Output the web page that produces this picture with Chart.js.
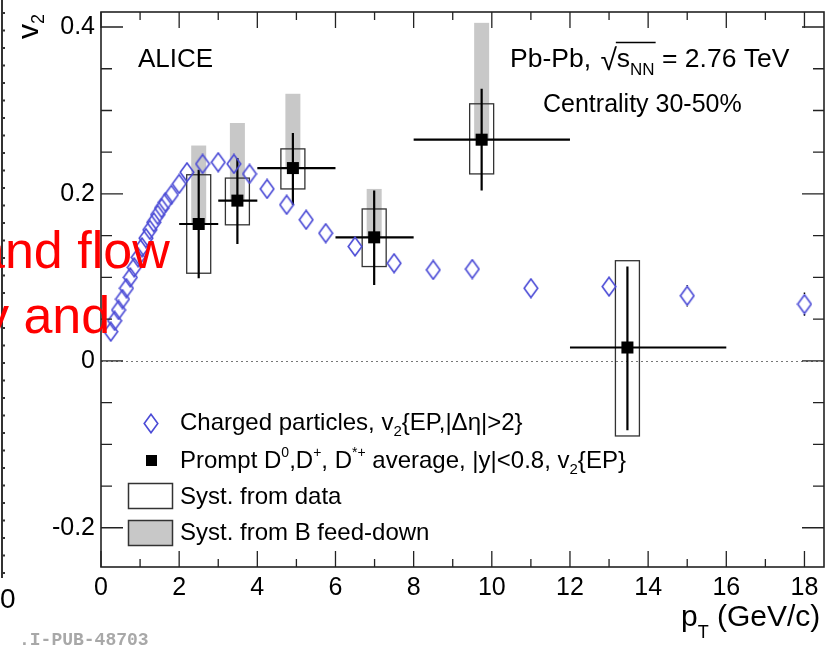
<!DOCTYPE html>
<html>
<head>
<meta charset="utf-8">
<script src="https://cdn.jsdelivr.net/npm/chart.js@4.4.0/dist/chart.umd.min.js"></script>
<style>
  html, body { margin: 0; padding: 0; background: #fff; }
  canvas { display: block; }
</style>
</head>
<body>
<canvas id="chart" width="833" height="652"></canvas>
<script>
// charged particles, v2{EP,|deta|>2}
const chPt = [0.25, 0.35, 0.45, 0.55, 0.65, 0.75, 0.85, 0.95, 1.05, 1.15, 1.25, 1.35, 1.45, 1.55, 1.65, 1.8, 2.0, 2.2,
              2.6, 3.0, 3.4, 3.8, 4.25, 4.75, 5.25, 5.75, 6.5, 7.5, 8.5, 9.5, 11, 13, 15, 18];
const chV2 = [0.035, 0.048, 0.061, 0.074, 0.087, 0.100, 0.112, 0.124, 0.136, 0.147, 0.157, 0.166, 0.175, 0.183, 0.190, 0.199, 0.212, 0.226,
              0.236, 0.238, 0.236, 0.224, 0.206, 0.187, 0.169, 0.153, 0.137, 0.117, 0.109, 0.110, 0.087, 0.089, 0.078, 0.068];
const chErr = [0, 0, 0, 0, 0, 0, 0, 0, 0, 0, 0, 0, 0, 0, 0, 0, 0, 0,
               0, 0, 0, 0, 0, 0, 0, 0, 0, 0, 0, 0, 0, 0, 0.013, 0.014];

// prompt D0, D+, D*+ average
const dPt = [2.5, 3.49, 4.91, 6.99, 9.74, 13.47];
const dV2 = [0.164, 0.192, 0.231, 0.148, 0.265, 0.016];
const dPtLo = [2, 3, 4, 6, 8, 12];
const dPtHi = [3, 4, 6, 8, 12, 16];
const dStatLo = [0.099, 0.140, 0.187, 0.091, 0.204, -0.083];
const dStatHi = [0.229, 0.243, 0.273, 0.204, 0.326, 0.113];
const dSystLo = [0.105, 0.163, 0.206, 0.113, 0.224, -0.090];
const dSystHi = [0.223, 0.219, 0.254, 0.182, 0.308, 0.120];
const dFeedHi = [0.258, 0.285, 0.320, 0.206, 0.405, null];

// axis labels
const xTicks = [0, 2, 4, 6, 8, 10, 12, 14, 16, 18];
const yTicks = [-0.2, 0, 0.2, 0.4];

const FONT = '"Liberation Sans", Arial, sans-serif';
const BLUE = '#4b4bd6';

// open diamond marker, a bit taller than wide
const diamond = document.createElement('canvas');
diamond.width = 16;
diamond.height = 21;
const dc = diamond.getContext('2d');
dc.strokeStyle = BLUE;
dc.lineWidth = 1.6;
dc.beginPath();
dc.moveTo(8, 1.2); dc.lineTo(14.8, 10.5); dc.lineTo(8, 19.8); dc.lineTo(1.2, 10.5);
dc.closePath();
dc.stroke();

function runs(ctx, x, y, parts) {
  for (const p of parts) {
    ctx.font = p.s + 'px ' + FONT;
    ctx.fillText(p.t, x, y + (p.dy || 0));
    x += ctx.measureText(p.t).width;
  }
  return x;
}

const decor = {
  id: 'decor',
  beforeDatasetsDraw(chart) {
    const { ctx, chartArea: a, scales: { x, y } } = chart;
    ctx.save();

    // dotted zero line
    ctx.strokeStyle = '#777';
    ctx.lineWidth = 1;
    ctx.setLineDash([2, 3]);
    ctx.beginPath();
    ctx.moveTo(a.left, Math.round(y.getPixelForValue(0)) + 0.5);
    ctx.lineTo(a.right, Math.round(y.getPixelForValue(0)) + 0.5);
    ctx.stroke();
    ctx.setLineDash([]);

    // B feed-down systematics
    ctx.fillStyle = '#c8c8c8';
    dPt.forEach((p, i) => {
      if (dFeedHi[i] == null) return;
      const px = x.getPixelForValue(p);
      const t = y.getPixelForValue(dFeedHi[i]);
      ctx.fillRect(px - 7.5, t, 15, y.getPixelForValue(dV2[i]) - t);
    });

    // systematics from data
    ctx.strokeStyle = '#333';
    ctx.lineWidth = 1.3;
    dPt.forEach((p, i) => {
      const px = x.getPixelForValue(p);
      const t = y.getPixelForValue(dSystHi[i]);
      ctx.strokeRect(px - 12, t, 24, y.getPixelForValue(dSystLo[i]) - t);
    });

    // statistical error bars
    ctx.strokeStyle = '#000';
    ctx.lineWidth = 2.2;
    dPt.forEach((p, i) => {
      const px = x.getPixelForValue(p);
      const py = y.getPixelForValue(dV2[i]);
      ctx.beginPath();
      ctx.moveTo(x.getPixelForValue(dPtLo[i]), py);
      ctx.lineTo(x.getPixelForValue(dPtHi[i]), py);
      ctx.moveTo(px, y.getPixelForValue(dStatHi[i]));
      ctx.lineTo(px, y.getPixelForValue(dStatLo[i]));
      ctx.stroke();
    });

    // small error bars on charged points, outside the marker
    ctx.lineWidth = 1.5;
    chPt.forEach((p, i) => {
      if (!chErr[i]) return;
      const px = x.getPixelForValue(p);
      const py = y.getPixelForValue(chV2[i]);
      ctx.beginPath();
      ctx.moveTo(px, py - 10); ctx.lineTo(px, y.getPixelForValue(chV2[i] + chErr[i]));
      ctx.moveTo(px, py + 10); ctx.lineTo(px, y.getPixelForValue(chV2[i] - chErr[i]));
      ctx.stroke();
    });
    ctx.restore();
  },

  afterDatasetsDraw(chart) {
    const { ctx, chartArea: a, scales: { x, y } } = chart;
    ctx.save();

    // frame with inner ticks
    ctx.strokeStyle = '#222';
    ctx.lineWidth = 1.6;
    ctx.strokeRect(a.left, a.top, a.right - a.left, a.bottom - a.top);
    ctx.lineWidth = 1.3;
    ctx.beginPath();
    for (let v = 0; v <= 18; v++) {
      const px = x.getPixelForValue(v);
      const len = v % 2 === 0 ? 16 : 8;
      ctx.moveTo(px, a.bottom); ctx.lineTo(px, a.bottom - len);
      ctx.moveTo(px, a.top); ctx.lineTo(px, a.top + len);
    }
    for (let k = -4; k <= 8; k++) {
      const py = y.getPixelForValue(k * 0.05);
      const len = k % 4 === 0 ? 22 : 11;
      ctx.moveTo(a.left, py); ctx.lineTo(a.left + len, py);
      ctx.moveTo(a.right, py); ctx.lineTo(a.right - len, py);
    }
    ctx.stroke();

    ctx.fillStyle = '#000';
    ctx.textBaseline = 'alphabetic';
    ctx.textAlign = 'left';

    // axis titles
    let cx = runs(ctx, 681, 626, [{ t: 'p', s: 30 }]);
    cx = runs(ctx, cx, 626, [{ t: 'T', s: 18, dy: 12 }]);
    runs(ctx, cx, 626, [{ t: ' (GeV/c)', s: 30 }]);

    ctx.save();
    ctx.translate(38, 39);
    ctx.rotate(-Math.PI / 2);
    cx = runs(ctx, 0, 0, [{ t: 'v', s: 30 }]);
    runs(ctx, cx, 0, [{ t: '2', s: 18, dy: 6 }]);
    ctx.restore();

    // labels in the plot
    runs(ctx, 138, 67, [{ t: 'ALICE', s: 26 }]);
    cx = runs(ctx, 510, 67, [{ t: 'Pb-Pb, ', s: 26.5 }]);
    cx = runs(ctx, cx + 2, 70, [{ t: '\u221A', s: 30 }]);
    const ovl = cx;
    cx = runs(ctx, cx, 67, [{ t: 's', s: 26.5 }]);
    cx = runs(ctx, cx, 67, [{ t: 'NN', s: 17, dy: 8 }]);
    ctx.lineWidth = 1.4;
    ctx.strokeStyle = '#000';
    ctx.beginPath();
    ctx.moveTo(ovl - 1, 42.5); ctx.lineTo(cx + 1, 42.5);
    ctx.stroke();
    runs(ctx, cx, 67, [{ t: ' = 2.76 TeV', s: 26.5 }]);
    runs(ctx, 543, 112, [{ t: 'Centrality 30-50%', s: 25 }]);

    // legend
    ctx.drawImage(diamond, 143, 413);
    ctx.fillRect(146, 455, 11, 11);
    ctx.strokeStyle = '#333';
    ctx.lineWidth = 1.5;
    ctx.strokeRect(128.5, 483.5, 44, 25);
    ctx.fillStyle = '#c8c8c8';
    ctx.fillRect(128.5, 520.5, 44, 25);
    ctx.strokeRect(128.5, 520.5, 44, 25);

    ctx.fillStyle = '#000';
    cx = runs(ctx, 180, 430, [{ t: 'Charged particles, v', s: 24 }]);
    cx = runs(ctx, cx, 430, [{ t: '2', s: 15, dy: 6 }]);
    runs(ctx, cx, 430, [{ t: '{EP,|\u0394\u03B7|>2}', s: 24 }]);

    cx = runs(ctx, 180, 468, [{ t: 'Prompt D', s: 24 }]);
    cx = runs(ctx, cx, 468, [{ t: '0', s: 14, dy: -11 }]);
    cx = runs(ctx, cx, 468, [{ t: ',D', s: 24 }]);
    cx = runs(ctx, cx, 468, [{ t: '+', s: 14, dy: -11 }]);
    cx = runs(ctx, cx, 468, [{ t: ', D', s: 24 }]);
    cx = runs(ctx, cx, 468, [{ t: '*+', s: 14, dy: -11 }]);
    cx = runs(ctx, cx, 468, [{ t: ' average, |y|<0.8, v', s: 24 }]);
    cx = runs(ctx, cx, 468, [{ t: '2', s: 15, dy: 6 }]);
    runs(ctx, cx, 468, [{ t: '{EP}', s: 24 }]);

    runs(ctx, 180, 504, [{ t: 'Syst. from data', s: 24 }]);
    runs(ctx, 180, 540, [{ t: 'Syst. from B feed-down', s: 24 }]);

    // leftovers of the slide around the figure
    ctx.strokeStyle = '#333';
    ctx.lineWidth = 2;
    ctx.beginPath();
    ctx.moveTo(2, 0); ctx.lineTo(2, 578);
    for (let t = 13; t < 578; t += 17.5) { ctx.moveTo(2, t); ctx.lineTo(5, t); }
    ctx.stroke();
    runs(ctx, 0, 608, [{ t: '0', s: 28 }]);
    ctx.fillStyle = '#a8a8a8';
    ctx.font = 'bold 18px "Liberation Mono", monospace';
    ctx.fillText('.I-PUB-48703', 19, 645);
    ctx.restore();
  },

  afterDraw(chart) {
    const ctx = chart.ctx;
    ctx.save();
    ctx.fillStyle = '#ff0000';
    ctx.font = '52px ' + FONT;
    ctx.textAlign = 'left';
    ctx.textBaseline = 'alphabetic';
    ctx.fillText('and flow', -24, 268);
    ctx.fillText('y and', -17, 333);
    ctx.restore();
  }
};

new Chart(document.getElementById('chart'), {
  type: 'scatter',
  data: {
    datasets: [
      {
        label: 'Prompt D average',
        data: dPt.map((p, i) => ({ x: p, y: dV2[i] })),
        pointStyle: 'rect',
        radius: 8.5,
        backgroundColor: '#000',
        borderWidth: 0
      },
      {
        label: 'Charged particles',
        data: chPt.map((p, i) => ({ x: p, y: chV2[i] })),
        pointStyle: diamond,
        radius: 8
      }
    ]
  },
  options: {
    responsive: false,
    animation: false,
    events: [],
    layout: { padding: { left: 0, right: 6, top: 12, bottom: 0 } },
    plugins: { legend: { display: false }, tooltip: { enabled: false } },
    scales: {
      x: {
        type: 'linear',
        min: 0,
        max: 18.5,
        grid: { display: false, drawTicks: false },
        border: { display: false },
        afterBuildTicks: s => { s.ticks = xTicks.map(v => ({ value: v })); },
        afterFit: s => { s.height = 85; s.paddingLeft = 0; s.paddingRight = 0; },
        ticks: {
          color: '#000',
          padding: 6,
          maxRotation: 0,
          font: { family: FONT, size: 25 },
          callback: v => String(v)
        }
      },
      y: {
        type: 'linear',
        min: -0.247,
        max: 0.418,
        grid: { display: false, drawTicks: false },
        border: { display: false },
        afterBuildTicks: s => { s.ticks = yTicks.map(v => ({ value: v })); },
        afterFit: s => { s.width = 101; s.paddingTop = 0; s.paddingBottom = 0; },
        ticks: {
          color: '#000',
          padding: 6,
          font: { family: FONT, size: 25 },
          callback: v => (Math.abs(v) < 1e-9 ? '0' : String(+v.toFixed(1)))
        }
      }
    }
  },
  plugins: [decor]
});
</script>
</body>
</html>
